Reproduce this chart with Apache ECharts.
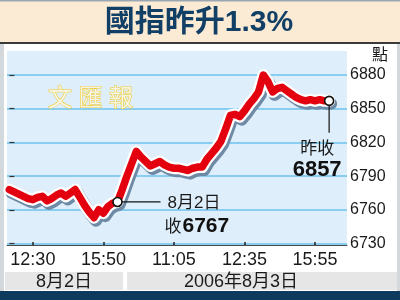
<!DOCTYPE html>
<html><head><meta charset="utf-8">
<script src="https://cdn.jsdelivr.net/npm/echarts@6/dist/echarts.min.js"></script>
<style>html,body{margin:0;padding:0;background:#d3d8dd;}#c{width:400px;height:300px;}</style>
</head><body><div id="c"></div>
<script>
// ---- data ----
const titleText = '國指昨升1.3%';
const unitLabel = '點';
const watermarkChars = ['文', '匯', '報'];
const xTickPos = [5, 20, 35, 50, 65];
const xTickLabels = ['12:30', '15:50', '11:05', '12:35', '15:55'];
const yTicks = [6730, 6760, 6790, 6820, 6850, 6880];
const dateLabels = ['8月2日', '2006年8月3日'];
const indexValues = [
  6778, 6776, 6774, 6772, 6770, 6769, 6771, 6772, 6768, 6770,
  6773, 6775, 6772, 6775, 6778, 6771, 6764, 6758, 6753, 6760,
  6757, 6763, 6766, 6767, 6778, 6790, 6801, 6812, 6807, 6803,
  6799, 6801, 6803, 6800, 6798, 6797, 6797, 6796, 6795, 6797,
  6798, 6798, 6805, 6810, 6815, 6821, 6832, 6844, 6845, 6843,
  6848, 6854, 6859, 6865, 6880, 6874, 6865, 6868, 6869, 6866,
  6863, 6860, 6858, 6857, 6858, 6857, 6858, 6857, 6857
];
const markIdx = [23, 68];
const markValues = [6767, 6857];
const markDay = '8月2日';
const markClose1Prefix = '收';
const markClose1 = '6767';
const markClose2Prefix = '昨收';
const markClose2 = '6857';

const CJK = "'Noto Sans CJK TC','Noto Sans CJK SC',sans-serif";
const LAT = "'Liberation Sans',Arial,'Noto Sans CJK TC',sans-serif";
const NARROW = "'Liberation Sans Narrow','Arial Narrow','Liberation Sans',sans-serif";

const chart = echarts.init(document.getElementById('c'), null, {renderer: 'canvas'});
const lineData = indexValues.map((v, i) => [i, v]);
const labelMap = {};
xTickPos.forEach((p, i) => labelMap[p] = xTickLabels[i]);

const option = {
  animation: false,
  grid: {left: 7, right: 53, top: 75, bottom: 56.5, containLabel: false},
  xAxis: {
    type: 'value', min: -0.5, max: 71.8, offset: 1.5,
    splitLine: {show: false},
    axisLine: {show: true, lineStyle: {color: '#4a4a4a', width: 1}},
    axisTick: {show: true, inside: true, length: 3, customValues: xTickPos, lineStyle: {color: '#222', width: 1.5}},
    axisLabel: {customValues: xTickPos, formatter: v => labelMap[v] || '', color: '#1a1a1a',
      fontSize: 18, fontFamily: LAT, margin: 6}
  },
  yAxis: {
    type: 'value', position: 'right', min: yTicks[0], max: yTicks[yTicks.length - 1], interval: 30,
    axisLine: {show: false},
    axisTick: {show: true, length: 5, lineStyle: {color: '#333', width: 1.2}},
    axisLabel: {color: '#1a1a1a', fontSize: 16, fontFamily: NARROW, margin: 3, formatter: v => String(v)},
    splitLine: {show: true, lineStyle: {color: '#6cc2ee', width: 1.5}}
  },
  series: [
    {type: 'line', data: lineData, symbol: 'none', clip: false, silent: true, z: 3,
      lineStyle: {color: '#ffffff', width: 12, join: 'round', cap: 'round',
        shadowColor: '#6f8aa5', shadowOffsetX: 2, shadowOffsetY: 3, shadowBlur: 0}},
    {type: 'line', data: lineData, symbol: 'none', clip: false, silent: true, z: 4,
      lineStyle: {color: '#e3000f', width: 7.5, join: 'round', cap: 'round'}},
    {type: 'scatter', data: markIdx.map((p, i) => [p, markValues[i]]), symbol: 'circle', symbolSize: 9,
      clip: false, z: 6, silent: true, itemStyle: {color: '#ffffff', opacity: 1, borderColor: '#111', borderWidth: 1.6}}
  ],
  graphic: []
};
chart.setOption(option);

const p1 = chart.convertToPixel({gridIndex: 0}, [markIdx[0], markValues[0]]);
const p2 = chart.convertToPixel({gridIndex: 0}, [markIdx[1], markValues[1]]);

const g = [
  // frame panels
  {type: 'rect', shape: {x: 4, y: 0, width: 393, height: 300}, style: {fill: '#ffffff'}, z: -20},
  {type: 'rect', shape: {x: 0, y: 0, width: 400, height: 43}, style: {fill: '#fcebd4'}, z: -19},
  {type: 'rect', shape: {x: 0, y: 0, width: 400, height: 1.5}, style: {fill: '#9aa7b3'}, z: -18},
  {type: 'rect', shape: {x: 0, y: 42, width: 400, height: 2}, style: {fill: '#3a3a3a'}, z: -18},
  {type: 'rect', shape: {x: 7, y: 51, width: 340, height: 194}, style: {fill: '#deeefa'}, z: -15},
  {type: 'rect', shape: {x: 5, y: 272, width: 118, height: 18}, style: {fill: '#e6e6e6'}, z: -15},
  {type: 'rect', shape: {x: 127, y: 272, width: 270, height: 18}, style: {fill: '#e6e6e6'}, z: -15},
  {type: 'rect', shape: {x: 0, y: 291, width: 400, height: 9}, style: {fill: '#0e3b5d'}, z: -15},
  // title
  {type: 'text', x: 199, y: 23, style: {text: titleText, fill: '#123f66', font: "bold 30px " + LAT,
    align: 'center', verticalAlign: 'middle'}, z: 10},
  // unit
  {type: 'text', x: 380, y: 54, style: {text: unitLabel, fill: '#1a1a1a', font: "16px " + CJK,
    align: 'center', verticalAlign: 'middle'}, z: 10},
  // date band labels
  {type: 'text', x: 64, y: 282, style: {text: dateLabels[0], fill: '#1a1a1a', font: "18px " + LAT,
    align: 'center', verticalAlign: 'middle'}, z: 10},
  {type: 'text', x: 241, y: 282, style: {text: dateLabels[1], fill: '#1a1a1a', font: "18px " + LAT,
    align: 'center', verticalAlign: 'middle'}, z: 10},
  // callout 1
  {type: 'line', shape: {x1: p1[0] + 4.5, y1: p1[1], x2: p1[0] + 43, y2: p1[1]},
    style: {stroke: '#111', lineWidth: 1.2}, z: 5},
  {type: 'text', x: p1[0] + 50, y: p1[1] + 1, style: {text: markDay, fill: '#1a1a1a', font: "17px " + LAT,
    align: 'left', verticalAlign: 'middle'}, z: 10},
  {type: 'text', x: p1[0] + 47, y: p1[1] + 24, style: {text: markClose1Prefix, fill: '#1a1a1a', font: "17px " + CJK,
    align: 'left', verticalAlign: 'middle'}, z: 10},
  {type: 'text', x: p1[0] + 65, y: p1[1] + 24, style: {text: markClose1, fill: '#111', font: "bold 21px " + LAT,
    align: 'left', verticalAlign: 'middle'}, z: 10},
  // callout 2
  {type: 'line', shape: {x1: p2[0], y1: p2[1] + 4.5, x2: p2[0], y2: p2[1] + 32},
    style: {stroke: '#111', lineWidth: 1.2}, z: 5},
  {type: 'text', x: p2[0] - 12, y: p2[1] + 47, style: {text: markClose2Prefix, fill: '#1a1a1a', font: "17px " + CJK,
    align: 'center', verticalAlign: 'middle'}, z: 10},
  {type: 'text', x: p2[0] - 12, y: p2[1] + 69, style: {text: markClose2, fill: '#111', font: "bold 22px " + LAT,
    align: 'center', verticalAlign: 'middle'}, z: 10}
];
// watermark, one glyph at a time
watermarkChars.forEach((ch, i) => {
  g.push({type: 'text', x: 60 + i * 30.5, y: 97, style: {text: ch, fill: '#f4f5e4', stroke: '#f0c92a', lineWidth: 1.1,
    font: "24px " + CJK, align: 'center', verticalAlign: 'middle'}, z: 1});
});
chart.setOption({graphic: g});
</script></body></html>
